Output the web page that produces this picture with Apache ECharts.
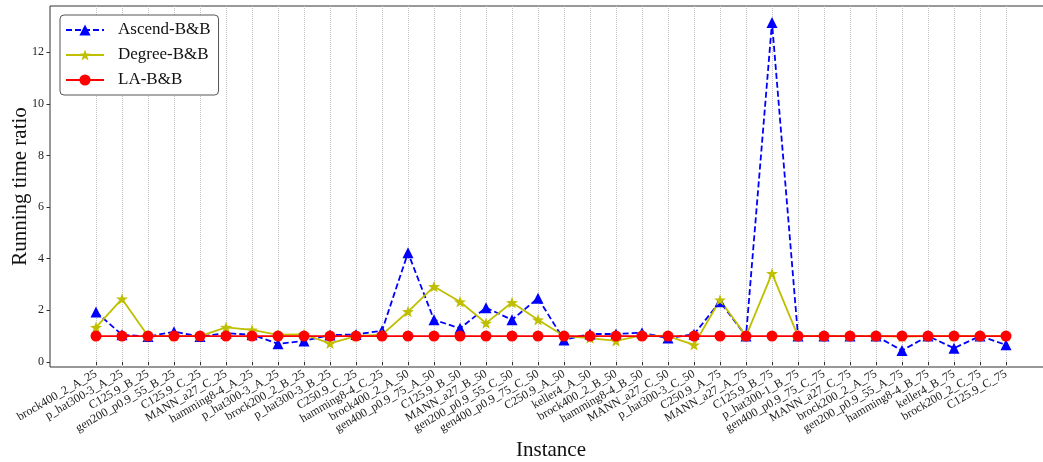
<!DOCTYPE html>
<html>
<head>
<meta charset="utf-8">
<script src="https://cdn.jsdelivr.net/npm/echarts@6/dist/echarts.min.js"></script>
<style>
html,body{margin:0;padding:0;background:#fff;}
#chart{width:1043px;height:462px;}
</style>
</head>
<body>
<div id="chart"></div>
<script>
var categories = [
  'brock400_2_A_25','p_hat300-3_A_25','C125.9_B_25','gen200_p0.9_55_B_25','C125.9_C_25','MANN_a27_C_25',
  'hamming8-4_A_25','p_hat300-3_A_25','brock200_2_B_25','p_hat300-3_B_25','C250.9_C_25','hamming8-4_C_25',
  'brock400_2_A_50','gen400_p0.9_75_A_50','C125.9_B_50','MANN_a27_B_50','gen200_p0.9_55_C_50','gen400_p0.9_75_C_50',
  'C250.9_A_50','keller4_A_50','brock400_2_B_50','hamming8-4_B_50','MANN_a27_C_50','p_hat300-3_C_50',
  'C250.9_A_75','MANN_a27_A_75','C125.9_B_75','p_hat300-1_B_75','gen400_p0.9_75_C_75','MANN_a27_C_75',
  'brock200_2_A_75','gen200_p0.9_55_A_75','hamming8-4_B_75','keller4_B_75','brock200_2_C_75','C125.9_C_75'
];
var ascendBB = [1.93,1.05,0.98,1.17,0.98,1.11,1.05,0.70,0.81,1.04,1.06,1.21,
                4.23,1.63,1.30,2.10,1.63,2.47,0.85,1.08,1.08,1.13,0.92,1.07,
                2.33,1.00,13.16,1.00,1.00,1.00,1.00,0.44,1.00,0.53,1.00,0.66];
var degreeBB = [1.34,2.44,1.00,1.00,1.00,1.34,1.24,1.05,1.06,0.72,1.00,1.05,
                1.95,2.92,2.33,1.50,2.30,1.63,1.00,0.92,0.81,1.03,1.00,0.66,
                2.40,1.00,3.43,1.00,1.00,1.00,1.00,0.98,1.00,1.00,1.00,1.00];
var laBB = [1,1,1,1,1,1,1,1,1,1,1,1,1,1,1,1,1,1,1,1,1,1,1,1,1,1,1,1,1,1,1,1,1,1,1,1];
var yTicks = [0,2,4,6,8,10,12];

var FONT = "'Liberation Serif', 'DejaVu Serif', serif";
var STAR = 'path://M0,-10 L2.35,-3.24 L9.51,-3.09 L3.8,1.24 L5.88,8.09 L0,4 L-5.88,8.09 L-3.8,1.24 L-9.51,-3.09 L-2.35,-3.24 Z';

var chart = echarts.init(document.getElementById('chart'), null, {renderer:'canvas'});
chart.setOption({
  animation: false,
  backgroundColor: '#fff',
  textStyle: {fontFamily: FONT},
  grid: [
    {left: 50, top: 6, width: 1002, height: 361, show: true, borderColor: '#333', borderWidth: 1,
     backgroundColor: 'transparent', containLabel: false, outerBoundsMode: 'none'},
    {left: 96, top: 6, width: 910, height: 361, containLabel: false, outerBoundsMode: 'none'},
    {left: 50, top: 52.3, width: 10, height: 309.5, containLabel: false, outerBoundsMode: 'none'}
  ],
  xAxis: [
    {gridIndex: 0, type: 'value', show: true, min: 0, max: 1,
     axisLine: {show: false}, axisTick: {show: false}, axisLabel: {show: false}, splitLine: {show: false},
     name: 'Instance', nameLocation: 'middle', nameGap: 73,
     nameTextStyle: {fontSize: 21, fontFamily: FONT, color: '#111'}},
    {gridIndex: 1, type: 'category', data: categories, boundaryGap: false,
     axisLine: {show: false},
     axisTick: {show: true, length: 3.5, lineStyle: {color: '#333', width: 1}},
     axisLabel: {rotate: 30, interval: 0, fontSize: 12, margin: 6, color: '#222', fontFamily: FONT},
     splitLine: {show: true, lineStyle: {color: '#c4c4c4', type: 'dotted', width: 1}}},
    {gridIndex: 2, type: 'value', show: false, min: 0, max: 1}
  ],
  yAxis: [
    {gridIndex: 0, type: 'value', show: true, min: 0, max: 1,
     axisLine: {show: false}, axisTick: {show: false}, axisLabel: {show: false}, splitLine: {show: false},
     name: 'Running time ratio', nameLocation: 'middle', nameGap: 19,
     nameTextStyle: {fontSize: 21, fontFamily: FONT, color: '#111'}},
    {gridIndex: 1, type: 'value', show: false, min: -0.2, max: 13.8},
    {gridIndex: 2, type: 'value', min: yTicks[0], max: yTicks[yTicks.length-1], interval: yTicks[1]-yTicks[0],
     axisLine: {show: false},
     axisTick: {show: true, length: 3.5, lineStyle: {color: '#333', width: 1}},
     axisLabel: {fontSize: 12, margin: 6, color: '#222', fontFamily: FONT},
     splitLine: {show: false}}
  ],
  legend: {
    orient: 'vertical', left: 60, top: 15,
    padding: [5, 8, 5, 5],
    itemGap: 5, itemWidth: 38, itemHeight: 14,
    backgroundColor: '#fff', borderColor: '#555', borderWidth: 1, borderRadius: 4,
    textStyle: {fontSize: 17, fontFamily: FONT, color: '#111', lineHeight: 20, padding: [0, 0, 0, 9]},
    data: ['Ascend-B&B', 'Degree-B&B', 'LA-B&B']
  },
  series: [
    {name: 'Ascend-B&B', type: 'line', xAxisIndex: 1, yAxisIndex: 1, data: ascendBB, clip: false,
     symbol: 'triangle', symbolSize: 11, color: '#0000ff',
     lineStyle: {color: '#0000ff', width: 1.8, type: [6, 3]},
     itemStyle: {color: '#0000ff'}},
    {name: 'Degree-B&B', type: 'line', xAxisIndex: 1, yAxisIndex: 1, data: degreeBB, clip: false,
     symbol: STAR, symbolSize: 12, symbolKeepAspect: true, color: '#bfbf00',
     lineStyle: {color: '#bfbf00', width: 1.8},
     itemStyle: {color: '#bfbf00'}},
    {name: 'LA-B&B', type: 'line', xAxisIndex: 1, yAxisIndex: 1, data: laBB, clip: false,
     symbol: 'circle', symbolSize: 11, color: '#ff0000',
     lineStyle: {color: '#ff0000', width: 1.8},
     itemStyle: {color: '#ff0000'}}
  ]
});
</script>
</body>
</html>
